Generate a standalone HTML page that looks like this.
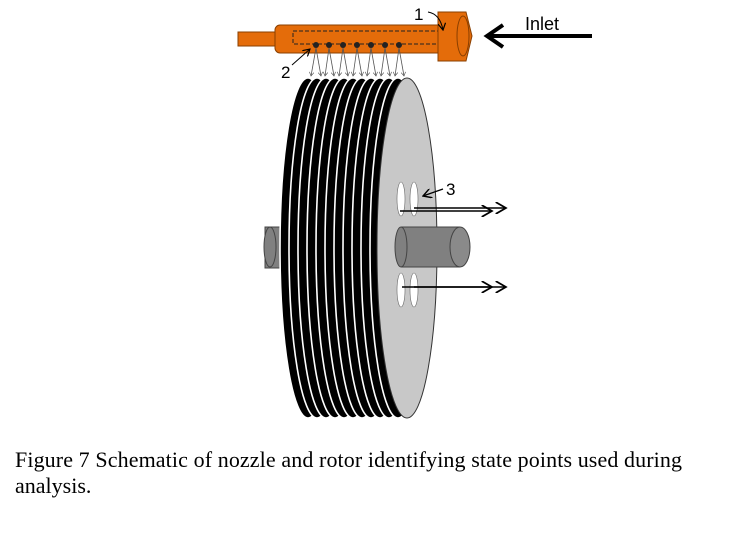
<!DOCTYPE html><html><head><style>body{margin:0;background:#fff}</style></head><body>
<svg width="730" height="538" xmlns="http://www.w3.org/2000/svg" font-family="Liberation Sans, sans-serif">
<defs><marker id="a" markerWidth="8" markerHeight="8" refX="7" refY="4" orient="auto"><path d="M0,0L7,4L0,8" fill="none" stroke="#000" stroke-width="1.2"/></marker>
<marker id="s" markerWidth="6" markerHeight="6" refX="5" refY="3" orient="auto"><path d="M0,0L5,3L0,6" fill="none" stroke="#555" stroke-width="0.8"/></marker></defs>
<!-- nozzle -->
<rect x="238" y="32" width="40" height="14" fill="#e46c0a" stroke="#8a3f00"/>
<rect x="275" y="25" width="168" height="28" rx="5" fill="#e46c0a" stroke="#8a3f00"/>
<rect x="293" y="31" width="146" height="13" fill="none" stroke="#222" stroke-dasharray="4,2"/>
<path d="M438,12H466L472,36L466,61H438Z" fill="#e46c0a" stroke="#8a3f00"/>
<ellipse cx="463" cy="36" rx="6" ry="20" fill="none" stroke="#8a3f00"/>
<g fill="#222"><circle cx="316" cy="45" r="3"/><circle cx="329" cy="45" r="3"/><circle cx="343" cy="45" r="3"/><circle cx="357" cy="45" r="3"/><circle cx="371" cy="45" r="3"/><circle cx="385" cy="45" r="3"/><circle cx="399" cy="45" r="3"/></g>
<g stroke="#555" stroke-width="0.8" marker-end="url(#s)">
<line x1="316" y1="48" x2="311" y2="76"/><line x1="316" y1="48" x2="321" y2="76"/>
<line x1="329" y1="48" x2="325" y2="76"/><line x1="329" y1="48" x2="334" y2="76"/>
<line x1="343" y1="48" x2="339" y2="76"/><line x1="343" y1="48" x2="348" y2="76"/>
<line x1="357" y1="48" x2="353" y2="76"/><line x1="357" y1="48" x2="362" y2="76"/>
<line x1="371" y1="48" x2="367" y2="76"/><line x1="371" y1="48" x2="376" y2="76"/>
<line x1="385" y1="48" x2="381" y2="76"/><line x1="385" y1="48" x2="390" y2="76"/>
<line x1="399" y1="48" x2="395" y2="76"/><line x1="399" y1="48" x2="404" y2="76"/></g>
<text x="414" y="20" font-size="17">1</text>
<path d="M428,12Q440,14 443,30" fill="none" stroke="#000" stroke-width="1" marker-end="url(#a)"/>
<text x="281" y="78" font-size="17">2</text>
<line x1="292" y1="65" x2="310" y2="49" stroke="#000" stroke-width="1" marker-end="url(#a)"/>
<line x1="592" y1="36" x2="490" y2="36" stroke="#000" stroke-width="4"/>
<path d="M503,25L487,36L503,47" fill="none" stroke="#000" stroke-width="4"/>
<text x="525" y="30" font-size="18">Inlet</text>
<!-- rotor -->
<rect x="265" y="227" width="22" height="41" fill="#808080" stroke="#444"/>
<ellipse cx="270" cy="247" rx="6" ry="20" fill="#808080" stroke="#444"/>
<g fill="#000" stroke="#fff" stroke-width="1.6">
<ellipse cx="308" cy="248" rx="28" ry="170"/><ellipse cx="317" cy="248" rx="28" ry="170"/><ellipse cx="326" cy="248" rx="28" ry="170"/><ellipse cx="335" cy="248" rx="28" ry="170"/><ellipse cx="344" cy="248" rx="28" ry="170"/><ellipse cx="353" cy="248" rx="28" ry="170"/><ellipse cx="362" cy="248" rx="28" ry="170"/><ellipse cx="371" cy="248" rx="28" ry="170"/><ellipse cx="380" cy="248" rx="28" ry="170"/><ellipse cx="389" cy="248" rx="28" ry="170"/><ellipse cx="398" cy="248" rx="28" ry="170"/></g>
<ellipse cx="407" cy="248" rx="30" ry="170" fill="#c8c8c8" stroke="#333"/>
<g fill="#fff" stroke="#666" stroke-width="0.6"><ellipse cx="401" cy="199" rx="4" ry="17"/><ellipse cx="414" cy="199" rx="4" ry="17"/><ellipse cx="401" cy="290" rx="4" ry="17"/><ellipse cx="414" cy="290" rx="4" ry="17"/></g>
<rect x="401" y="227" width="59" height="40" fill="#808080"/>
<path d="M401,227H460M401,267H460" stroke="#444"/>
<ellipse cx="401" cy="247" rx="6" ry="20" fill="#808080" stroke="#444"/>
<ellipse cx="460" cy="247" rx="10" ry="20" fill="#8a8a8a" stroke="#444"/>
<g stroke="#000" stroke-width="1.5" marker-end="url(#a)">
<line x1="400" y1="211" x2="492" y2="211"/><line x1="414" y1="208" x2="506" y2="208"/>
<line x1="402" y1="287" x2="492" y2="287"/><line x1="414" y1="287" x2="506" y2="287"/></g>
<line x1="443" y1="189" x2="423" y2="196" stroke="#000" stroke-width="1.2" marker-end="url(#a)"/>
<text x="446" y="195" font-size="17">3</text>
<text x="15" y="467" font-size="22" font-family="Liberation Serif, serif" textLength="667">Figure 7 Schematic of nozzle and rotor identifying state points used during</text>
<text x="15" y="493" font-size="22" font-family="Liberation Serif, serif">analysis.</text>
</svg></body></html>
